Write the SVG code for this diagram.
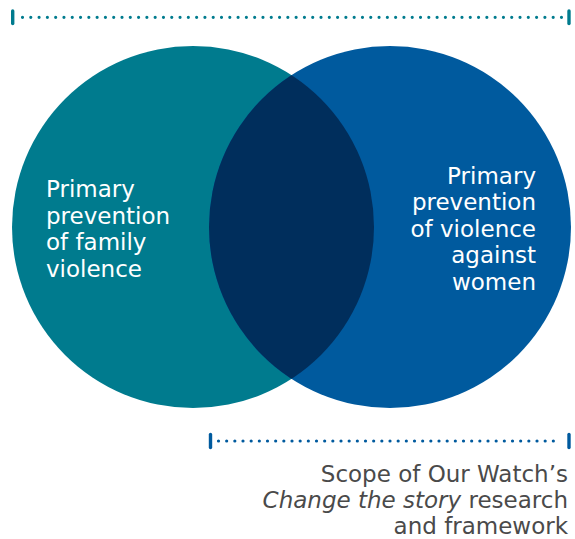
<svg xmlns="http://www.w3.org/2000/svg" width="575" height="539" viewBox="0 0 575 539">
  <defs>
    <style>
      .lbl { font-family: "DejaVu Sans", "Liberation Sans", sans-serif; font-size: 23px; fill: #ffffff; }
      .cap { font-family: "DejaVu Sans", "Liberation Sans", sans-serif; font-size: 23px; fill: #4a4a4a; }
      .dots { fill: none; stroke-width: 3.2; stroke-linecap: round; }
      .bar { stroke-width: 3.4; stroke-linecap: round; }
    </style>
    <clipPath id="clipLeft">
      <circle cx="193" cy="227" r="181"/>
    </clipPath>
  </defs>
  <rect width="575" height="539" fill="#ffffff"/>

  <g id="circle-family">
    <circle cx="193" cy="227" r="181" fill="#007B8E"/>
  </g>
  <g id="circle-women">
    <circle cx="390" cy="227" r="181" fill="#005A9E"/>
  </g>
  <g id="overlap">
    <circle cx="390" cy="227" r="181" fill="#002E5C" clip-path="url(#clipLeft)"/>
  </g>

  <g id="label-family">
    <text class="lbl" x="46" y="197">Primary</text>
    <text class="lbl" x="46" y="223.5">prevention</text>
    <text class="lbl" x="46" y="250">of family</text>
    <text class="lbl" x="46" y="276.5">violence</text>
  </g>
  <g id="label-women" text-anchor="end">
    <text class="lbl" x="536" y="183.5">Primary</text>
    <text class="lbl" x="536" y="210">prevention</text>
    <text class="lbl" x="536" y="236.5">of violence</text>
    <text class="lbl" x="536" y="263">against</text>
    <text class="lbl" x="536" y="289.5">women</text>
  </g>

  <g id="connectors">
    <g id="top-bracket" stroke="#007B8E">
      <line class="bar" x1="12.7" y1="11" x2="12.7" y2="23.5"/>
      <line class="bar" x1="569" y1="11" x2="569" y2="23.5"/>
      <line class="dots" x1="22.5" y1="17.3" x2="561.5" y2="17.3" stroke-dasharray="0 8.292"/>
    </g>
    <g id="bottom-bracket" stroke="#005A9E">
      <line class="bar" x1="210.5" y1="434.5" x2="210.5" y2="447.5"/>
      <line class="bar" x1="569" y1="434.5" x2="569" y2="447.5"/>
      <line class="dots" x1="218.5" y1="441" x2="561.5" y2="441" stroke-dasharray="0 8.167"/>
    </g>
  </g>

  <g id="caption" text-anchor="end">
    <text class="cap" x="568" y="482">Scope of Our Watch’s</text>
    <text class="cap" x="568" y="508"><tspan font-style="italic">Change the story</tspan> research</text>
    <text class="cap" x="568" y="534">and framework</text>
  </g>
</svg>
